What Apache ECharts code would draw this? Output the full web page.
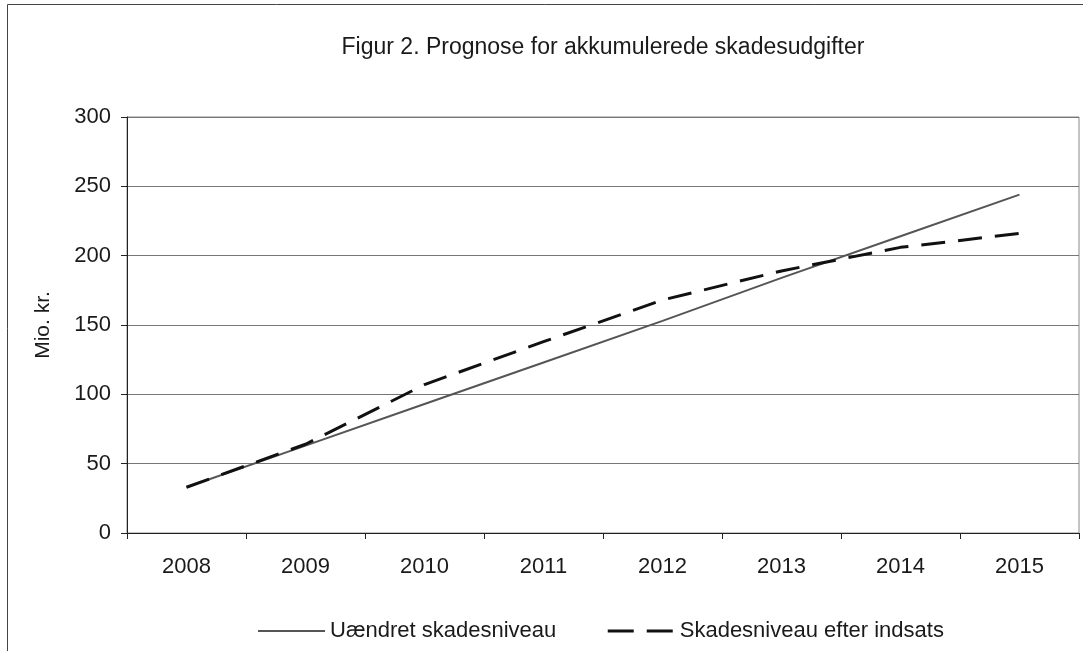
<!DOCTYPE html>
<html>
<head>
<meta charset="utf-8">
<script src="https://cdn.jsdelivr.net/npm/echarts@6/dist/echarts.min.js"></script>
<style>
	body { margin: 0; background: #fff; }
	#chart { width: 1083px; height: 651px; }
</style>
</head>
<body>
<div id="chart"></div>
<script>
// 数据
var years = ['2008', '2009', '2010', '2011', '2012', '2013', '2014', '2015'];
var uaendret = [33, 63, 93, 123, 153, 184, 214, 244];
var efterIndsats = [33, 64, 107, 138, 168, 189, 206, 216];
var seriesNames = ['Uændret skadesniveau', 'Skadesniveau efter indsats'];

var chart = echarts.init(document.getElementById('chart'));
var font = '"Liberation Sans", Arial, sans-serif';

var option = {
	animation: false,
	backgroundColor: '#fff',
	title: {
		text: 'Figur 2. Prognose for akkumulerede skadesudgifter',
		left: 598,
		textAlign: 'center',
		top: 31,
		textStyle: { fontFamily: font, fontSize: 23, fontWeight: 'normal', color: '#1a1a1a' }
	},
	// 外框
	graphic: [{
		type: 'rect',
		shape: { x: 7.5, y: 4.5, width: 1090, height: 660 },
		style: { fill: 'none', stroke: '#444', lineWidth: 1 },
		silent: true
	}],
	legend: {
		left: 252,
		top: 615,
		itemWidth: 67,
		itemHeight: 10,
		itemGap: 50,
		itemStyle: { opacity: 0 },
		textStyle: { fontFamily: font, fontSize: 22, color: '#1a1a1a' },
		data: [
			{ name: seriesNames[0] },
			{ name: seriesNames[1], lineStyle: { type: [26, 13], width: 3, color: '#111' } }
		]
	},
	grid: {
		left: 127,
		right: 4,
		top: 117,
		bottom: 118,
		show: true,
		borderColor: '#888',
		borderWidth: 1
	},
	xAxis: {
		type: 'category',
		data: years,
		boundaryGap: true,
		axisLine: { lineStyle: { color: '#222', width: 1 } },
		axisTick: { show: true, inside: false, length: 6, lineStyle: { color: '#222' } },
		axisLabel: { fontFamily: font, fontSize: 22, color: '#1a1a1a', margin: 23 }
	},
	yAxis: {
		type: 'value',
		min: 0,
		max: 300,
		interval: 50,
		name: 'Mio. kr.',
		nameLocation: 'middle',
		nameGap: 73,
		nameTextStyle: { fontFamily: font, fontSize: 21, color: '#1a1a1a' },
		axisLine: { show: true, lineStyle: { color: '#222', width: 1 } },
		axisTick: { show: true, inside: false, length: 6, lineStyle: { color: '#222' } },
		axisLabel: { fontFamily: font, fontSize: 22, color: '#1a1a1a', margin: 16 },
		splitLine: { show: true, lineStyle: { color: '#777', width: 1 } }
	},
	series: [
		{
			name: seriesNames[0],
			type: 'line',
			data: uaendret,
			symbol: 'none',
			color: '#555',
			lineStyle: { color: '#555', width: 2, type: 'solid' }
		},
		{
			name: seriesNames[1],
			type: 'line',
			data: efterIndsats,
			symbol: 'none',
			color: '#111',
			lineStyle: { color: '#111', width: 3, type: [24, 13] }
		}
	]
};
chart.setOption(option);
</script>
</body>
</html>
